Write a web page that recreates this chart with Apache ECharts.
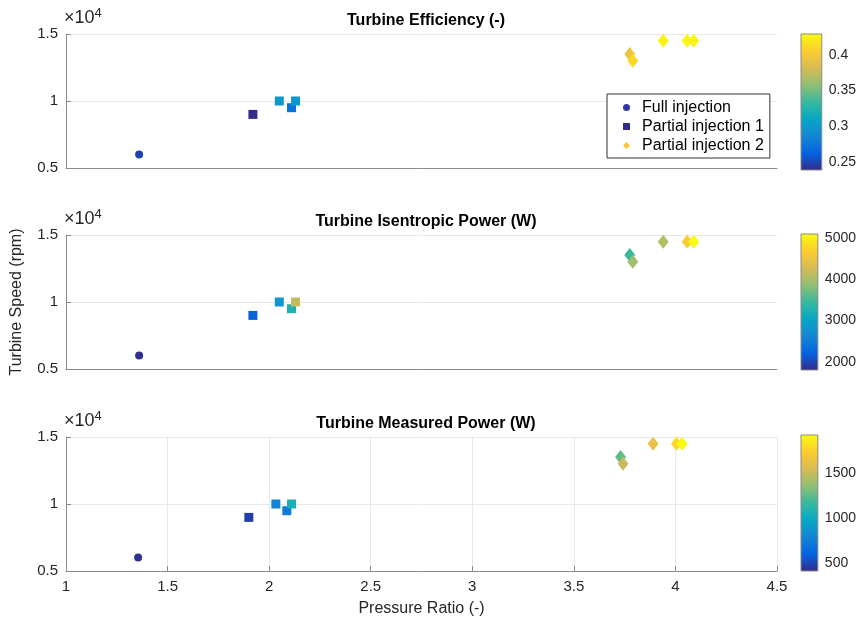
<!DOCTYPE html>
<html><head><meta charset="utf-8">
<script src="https://cdn.jsdelivr.net/npm/echarts@6/dist/echarts.min.js"></script>
<style>html,body{margin:0;padding:0;background:#fff}#c{width:859px;height:623px}</style>
</head><body><div id="c"></div>
<script>
// ---- data ----
const seriesNames = ['Full injection', 'Partial injection 1', 'Partial injection 2'];
// pressure ratio (top two panels)
const fullX = [1.36];
const p1X = [1.92, 2.05, 2.11, 2.13];
const p2X = [3.775, 3.79, 3.94, 4.058, 4.09];
// pressure ratio (measured power panel)
const fullXm = [1.355];
const p1Xm = [1.90, 2.033, 2.087, 2.11];
const p2Xm = [3.73, 3.742, 3.89, 4.005, 4.033];
// turbine speed (rpm)
const fullY = [6000];
const p1Y = [9000, 10000, 9500, 10000];
const p2Y = [13500, 13000, 14500, 14500, 14500];
// efficiency (-)
const fullEff = [0.25];
const p1Eff = [0.24, 0.30, 0.273, 0.30];
const p2Eff = [0.395, 0.41, 0.425, 0.425, 0.425];
// isentropic power (W)
const fullIse = [1850];
const p1Ise = [2200, 2850, 3250, 4150];
const p2Ise = [3450, 3950, 4050, 4650, 5100];
// measured power (W)
const fullMeas = [430];
const p1Meas = [480, 790, 740, 1050];
const p2Meas = [1250, 1500, 1620, 1770, 1920];
// colour ranges and colourbar ticks
const effRange = [0.239, 0.429];
const iseRange = [1800, 5100];
const measRange = [410, 1920];
const effTicks = [0.25, 0.3, 0.35, 0.4];
const iseTicks = [2000, 3000, 4000, 5000];
const measTicks = [500, 1000, 1500];
const titles = ['Turbine Efficiency (-)', 'Turbine Isentropic Power (W)', 'Turbine Measured Power (W)'];
const parula = ['#352a87','#0363e1','#1485d4','#06a7c6','#38b99e','#92bf73','#d9ba56','#fcce2e','#f9fb0e'];

const FONT = 'Liberation Sans';
const chart = echarts.init(document.getElementById('c'));

const panelTops = [34, 235, 437];
const cbTops = [34, 234, 435];
const grids = [], xAxes = [], yAxes = [], series = [], visualMaps = [];
const pts = (x, y, c) => x.map((v, i) => [v, y[i], c[i]]);
const panels = [
  {xs: [fullX, p1X, p2X], cs: [fullEff, p1Eff, p2Eff], range: effRange, ticks: effTicks},
  {xs: [fullX, p1X, p2X], cs: [fullIse, p1Ise, p2Ise], range: iseRange, ticks: iseTicks},
  {xs: [fullXm, p1Xm, p2Xm], cs: [fullMeas, p1Meas, p2Meas], range: measRange, ticks: measTicks}
];
const ys = [fullY, p1Y, p2Y];
const symbols = ['circle', 'rect', 'diamond'];
const sizes = [8, 9, [11, 14]];

panels.forEach((p, k) => {
  const last = k === 2;
  grids.push({left: 66, top: panelTops[k], width: 711, height: 134});
  xAxes.push({
    type: 'value', gridIndex: k, min: 1, max: 4.5, interval: 0.5,
    axisLine: {show: true, lineStyle: {color: '#8a8a8a', width: 1}},
    axisTick: {show: last, inside: true, length: 5, lineStyle: {color: '#8a8a8a'}},
    axisLabel: {show: last, fontFamily: FONT, fontSize: 15, color: '#262626', margin: 8},
    splitLine: {show: last, lineStyle: {color: '#e8e8e8'}},
    name: last ? 'Pressure Ratio (-)' : '', nameLocation: 'middle', nameGap: 30,
    nameTextStyle: {fontFamily: FONT, fontSize: 16, color: '#262626'}
  });
  yAxes.push({
    type: 'value', gridIndex: k, min: 5000, max: 15000, interval: 5000,
    axisLine: {show: true, lineStyle: {color: '#8a8a8a', width: 1}},
    axisTick: {show: true, inside: true, length: 5, lineStyle: {color: '#8a8a8a'}},
    axisLabel: {fontFamily: FONT, fontSize: 15, color: '#262626', margin: 8, formatter: v => String(v / 10000)},
    splitLine: {show: true, lineStyle: {color: '#e8e8e8'}},
    name: '{a|\u00d710}{b|4}', nameLocation: 'end', nameGap: 5,
    nameTextStyle: {align: 'left', padding: [0, 0, 0, -2], rich: {
      a: {fontFamily: FONT, fontSize: 18, color: '#262626'},
      b: {fontFamily: FONT, fontSize: 13, color: '#262626', verticalAlign: 'top', padding: [0, 0, 9, 0]}
    }}
  });
  const sIdx = [];
  for (let j = 0; j < 3; j++) {
    sIdx.push(series.length);
    series.push({
      type: 'scatter', name: seriesNames[j], xAxisIndex: k, yAxisIndex: k,
      symbol: symbols[j], symbolSize: sizes[j], itemStyle: {opacity: 1},
      data: pts(p.xs[j], ys[j], p.cs[j]), z: 3
    });
  }
  visualMaps.push({
    type: 'continuous', show: false, seriesIndex: sIdx, dimension: 2,
    min: p.range[0], max: p.range[1], inRange: {color: parula}
  });
});

// colourbars
panels.forEach((p, k) => {
  const gi = 3 + k;
  grids.push({left: 801, top: cbTops[k], width: 22, height: 136});
  xAxes.push({type: 'value', gridIndex: gi, min: 0, max: 1, show: false});
  yAxes.push({
    type: 'value', gridIndex: gi, position: 'right', min: p.range[0], max: p.range[1],
    axisLine: {show: false},
    splitLine: {show: false},
    axisTick: {show: false},
    axisLabel: {fontFamily: FONT, fontSize: 14, color: '#262626', margin: 7, customValues: p.ticks,
      formatter: v => String(v)}
  });
  const stops = parula.map((c, i) => ({offset: i / (parula.length - 1), color: c}));
  series.push({
    type: 'custom', xAxisIndex: gi, yAxisIndex: gi, silent: true, z: 1,
    data: [[0, p.range[0], p.range[1]]],
    renderItem: (params, api) => {
      const a = api.coord([0, api.value(2)]);
      const b = api.coord([1, api.value(1)]);
      return {type: 'rect', shape: {x: a[0], y: a[1], width: b[0] - a[0], height: b[1] - a[1]},
        style: {fill: new echarts.graphic.LinearGradient(0, 1, 0, 0, stops), stroke: '#8a8a8a', lineWidth: 1}};
    }
  });
});

chart.setOption({
  animation: false,
  backgroundColor: '#fff',
  title: titles.map((t, k) => ({
    text: t, left: 421, top: panelTops[k] - 26, textAlign: 'center',
    textStyle: {fontFamily: FONT, fontSize: 16, fontWeight: 'bold', color: '#000'}
  })),
  legend: {
    orient: 'vertical', left: 607, top: 94, padding: [5, 6, 4, 16],
    borderColor: '#333', borderWidth: 1, backgroundColor: '#fff',
    itemWidth: 7, itemHeight: 7, itemGap: 2,
    textStyle: {fontFamily: FONT, fontSize: 16, lineHeight: 17, color: '#000', padding: [0, 0, 0, 7]},
    data: [
      {name: seriesNames[0], icon: 'circle', itemStyle: {color: '#3237a8'}},
      {name: seriesNames[1], icon: 'rect', itemStyle: {color: '#2f2c8a'}},
      {name: seriesNames[2], icon: 'diamond', itemStyle: {color: '#f9c634'}}
    ]
  },
  graphic: [{
    type: 'text', rotation: Math.PI / 2,
    style: {text: 'Turbine Speed (rpm)', fontFamily: FONT, fontSize: 16, fill: '#262626', align: 'center', verticalAlign: 'middle'},
    x: 17, y: 302
  }],
  grid: grids, xAxis: xAxes, yAxis: yAxes, visualMap: visualMaps, series: series
});
</script></body></html>
